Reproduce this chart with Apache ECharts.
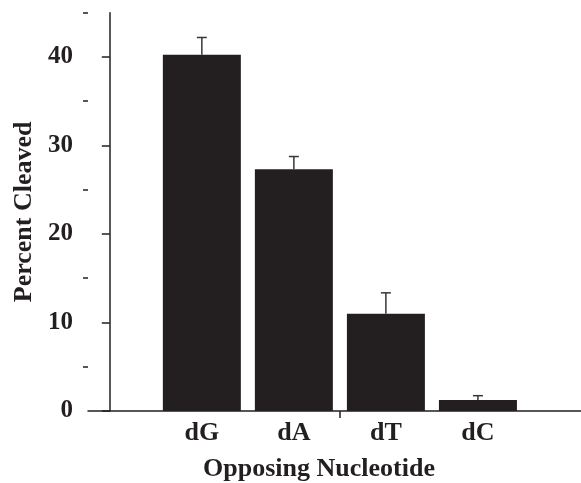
<!DOCTYPE html>
<html>
<head>
<meta charset="utf-8">
<style>
  html, body { margin: 0; padding: 0; background: #fff; }
  #chart { width: 581px; height: 483px; }
</style>
<script src="https://cdn.jsdelivr.net/npm/echarts@6/dist/echarts.min.js"></script>
</head>
<body>
<div id="chart"></div>
<script>
// data
var categories = ['dG', 'dA', 'dT', 'dC'];
var positions = [1, 2, 3, 4];
var percentCleaved = [40.25, 27.3, 11.0, 1.25];
var errorUp = [1.95, 1.45, 2.35, 0.48];
var yMajorTicks = [0, 10, 20, 30, 40];
var yMinorTicks = [5, 15, 25, 35, 45];
var xTicks = [2.5];

var ink = '#231f20';
var font = 'Liberation Serif';

var chart = echarts.init(document.getElementById('chart'));

var barData = positions.map(function (p, i) { return [p, percentCleaved[i]]; });
var errData = positions.map(function (p, i) { return [p, percentCleaved[i], percentCleaved[i] + errorUp[i]]; });

chart.setOption({
  backgroundColor: '#fff',
  animation: false,
  title: {
    text: 'Opposing Nucleotide',
    left: 314,
    top: 451,
    textAlign: 'center',
    textStyle: { fontFamily: font, fontWeight: 'bold', fontSize: 26, color: ink }
  },
  grid: { left: 88, right: 0, top: 12.7, bottom: 72 },
  xAxis: {
    type: 'value',
    min: -0.237,
    max: 5.12,
    splitLine: { show: false },
    axisLine: { lineStyle: { color: ink, width: 1.5 } },
    axisTick: { show: true, inside: false, length: 7, customValues: xTicks, lineStyle: { color: ink, width: 1.5 } },
    axisLabel: {
      customValues: positions,
      margin: 9,
      fontFamily: font, fontWeight: 'bold', fontSize: 26, color: ink,
      formatter: function (v) { return categories[Math.round(v) - 1] || ''; }
    }
  },
  yAxis: [{
    type: 'value',
    min: 0,
    max: 45,
    name: 'Percent Cleaved',
    nameLocation: 'middle',
    nameGap: 50,
    nameTextStyle: { fontFamily: font, fontWeight: 'bold', fontSize: 26, color: ink },
    splitLine: { show: false },
    axisLine: { show: true, lineStyle: { color: ink, width: 1.5 } },
    axisTick: { show: true, length: 8, customValues: yMajorTicks, lineStyle: { color: ink, width: 1.5 } },
    axisLabel: {
      customValues: yMajorTicks,
      margin: 15,
      fontFamily: font, fontWeight: 'bold', fontSize: 25, color: ink
    }
  }, {
    // minor ticks only
    type: 'value',
    position: 'left',
    min: 0,
    max: 45,
    splitLine: { show: false },
    axisLine: { show: false },
    axisTick: { show: true, length: 5, customValues: yMinorTicks, lineStyle: { color: ink, width: 1.5 } },
    axisLabel: { show: false }
  }],
  series: [{
    type: 'bar',
    data: barData,
    barWidth: 78,
    itemStyle: { color: ink },
    z: 2
  }, {
    type: 'custom',
    data: errData,
    z: 3,
    renderItem: function (params, api) {
      var base = api.coord([api.value(0), api.value(1)]);
      var top = api.coord([api.value(0), api.value(2)]);
      var half = 5;
      var st = { stroke: '#3a3637', lineWidth: 1.5 };
      return {
        type: 'group',
        children: [
          { type: 'line', shape: { x1: base[0], y1: base[1], x2: top[0], y2: top[1] }, style: st },
          { type: 'line', shape: { x1: top[0] - half, y1: top[1], x2: top[0] + half, y2: top[1] }, style: st }
        ]
      };
    }
  }]
});
</script>
</body>
</html>
